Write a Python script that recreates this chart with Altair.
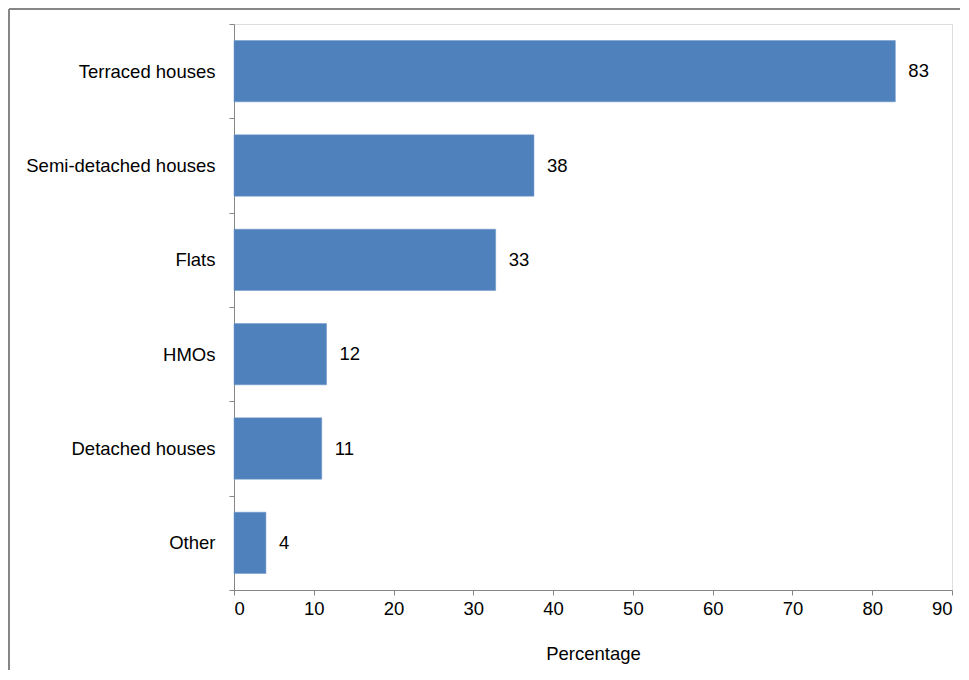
import altair as alt
import pandas as pd

categories = ["Terraced houses", "Semi-detached houses", "Flats", "HMOs", "Detached houses", "Other"]
values = [82.9, 37.6, 32.8, 11.6, 11.0, 4.0]
x_ticks = [0, 10, 20, 30, 40, 50, 60, 70, 80, 90]

df = pd.DataFrame({"category": categories, "value": values})

W, H = 718, 566
FONT = "Liberation Sans"
FS = 18.5
GREY = "#868686"

y_enc = alt.Y(
    "category:N", sort=None, title=None,
    scale=alt.Scale(paddingInner=0, paddingOuter=0),
    axis=alt.Axis(tickBand="extent", tickSize=5, tickColor=GREY, domainColor=GREY,
                  labelPadding=14, labelFontSize=FS, labelFont=FONT, labelColor="#000000",
                  labelLimit=400, domainWidth=1, tickWidth=1),
)
x_enc = alt.X(
    "value:Q", title="Percentage",
    scale=alt.Scale(domain=[0, 90], nice=False),
    axis=alt.Axis(values=x_ticks, tickSize=5, tickColor=GREY, domainColor=GREY, grid=False,
                  labelPadding=4, labelFontSize=FS, labelFont=FONT, labelColor="#000000",
                  titleFontSize=FS, titleFont=FONT, titleFontWeight="normal",
                  titleColor="#000000", titlePadding=27),
)

base = alt.Chart(df)

bars = base.mark_bar(color="#4F81BD", height={"band": 0.65}, stroke="#6F96C8",
                     strokeWidth=0.5).encode(x=x_enc, y=y_enc)

labels = base.mark_text(align="left", baseline="middle", dx=13, fontSize=FS,
                        font=FONT, color="#000000").encode(
    x="value:Q", y=alt.Y("category:N", sort=None),
    text=alt.Text("value:Q", format=".0f"))

frame_left = base.mark_rule(color=GREY, strokeWidth=1.5).encode(
    x=alt.value(-225), y=alt.value(-15), y2=alt.value(H + 80))
frame_top = base.mark_rule(color=GREY, strokeWidth=1.5).encode(
    x=alt.value(-225), x2=alt.value(W + 8), y=alt.value(-15))

chart = alt.layer(bars, labels, frame_left, frame_top).properties(
    width=W, height=H, padding=0
).configure_view(stroke=None).configure(background="#ffffff")

chart.save("out.html", embed_options={"renderer": "svg", "actions": False})
